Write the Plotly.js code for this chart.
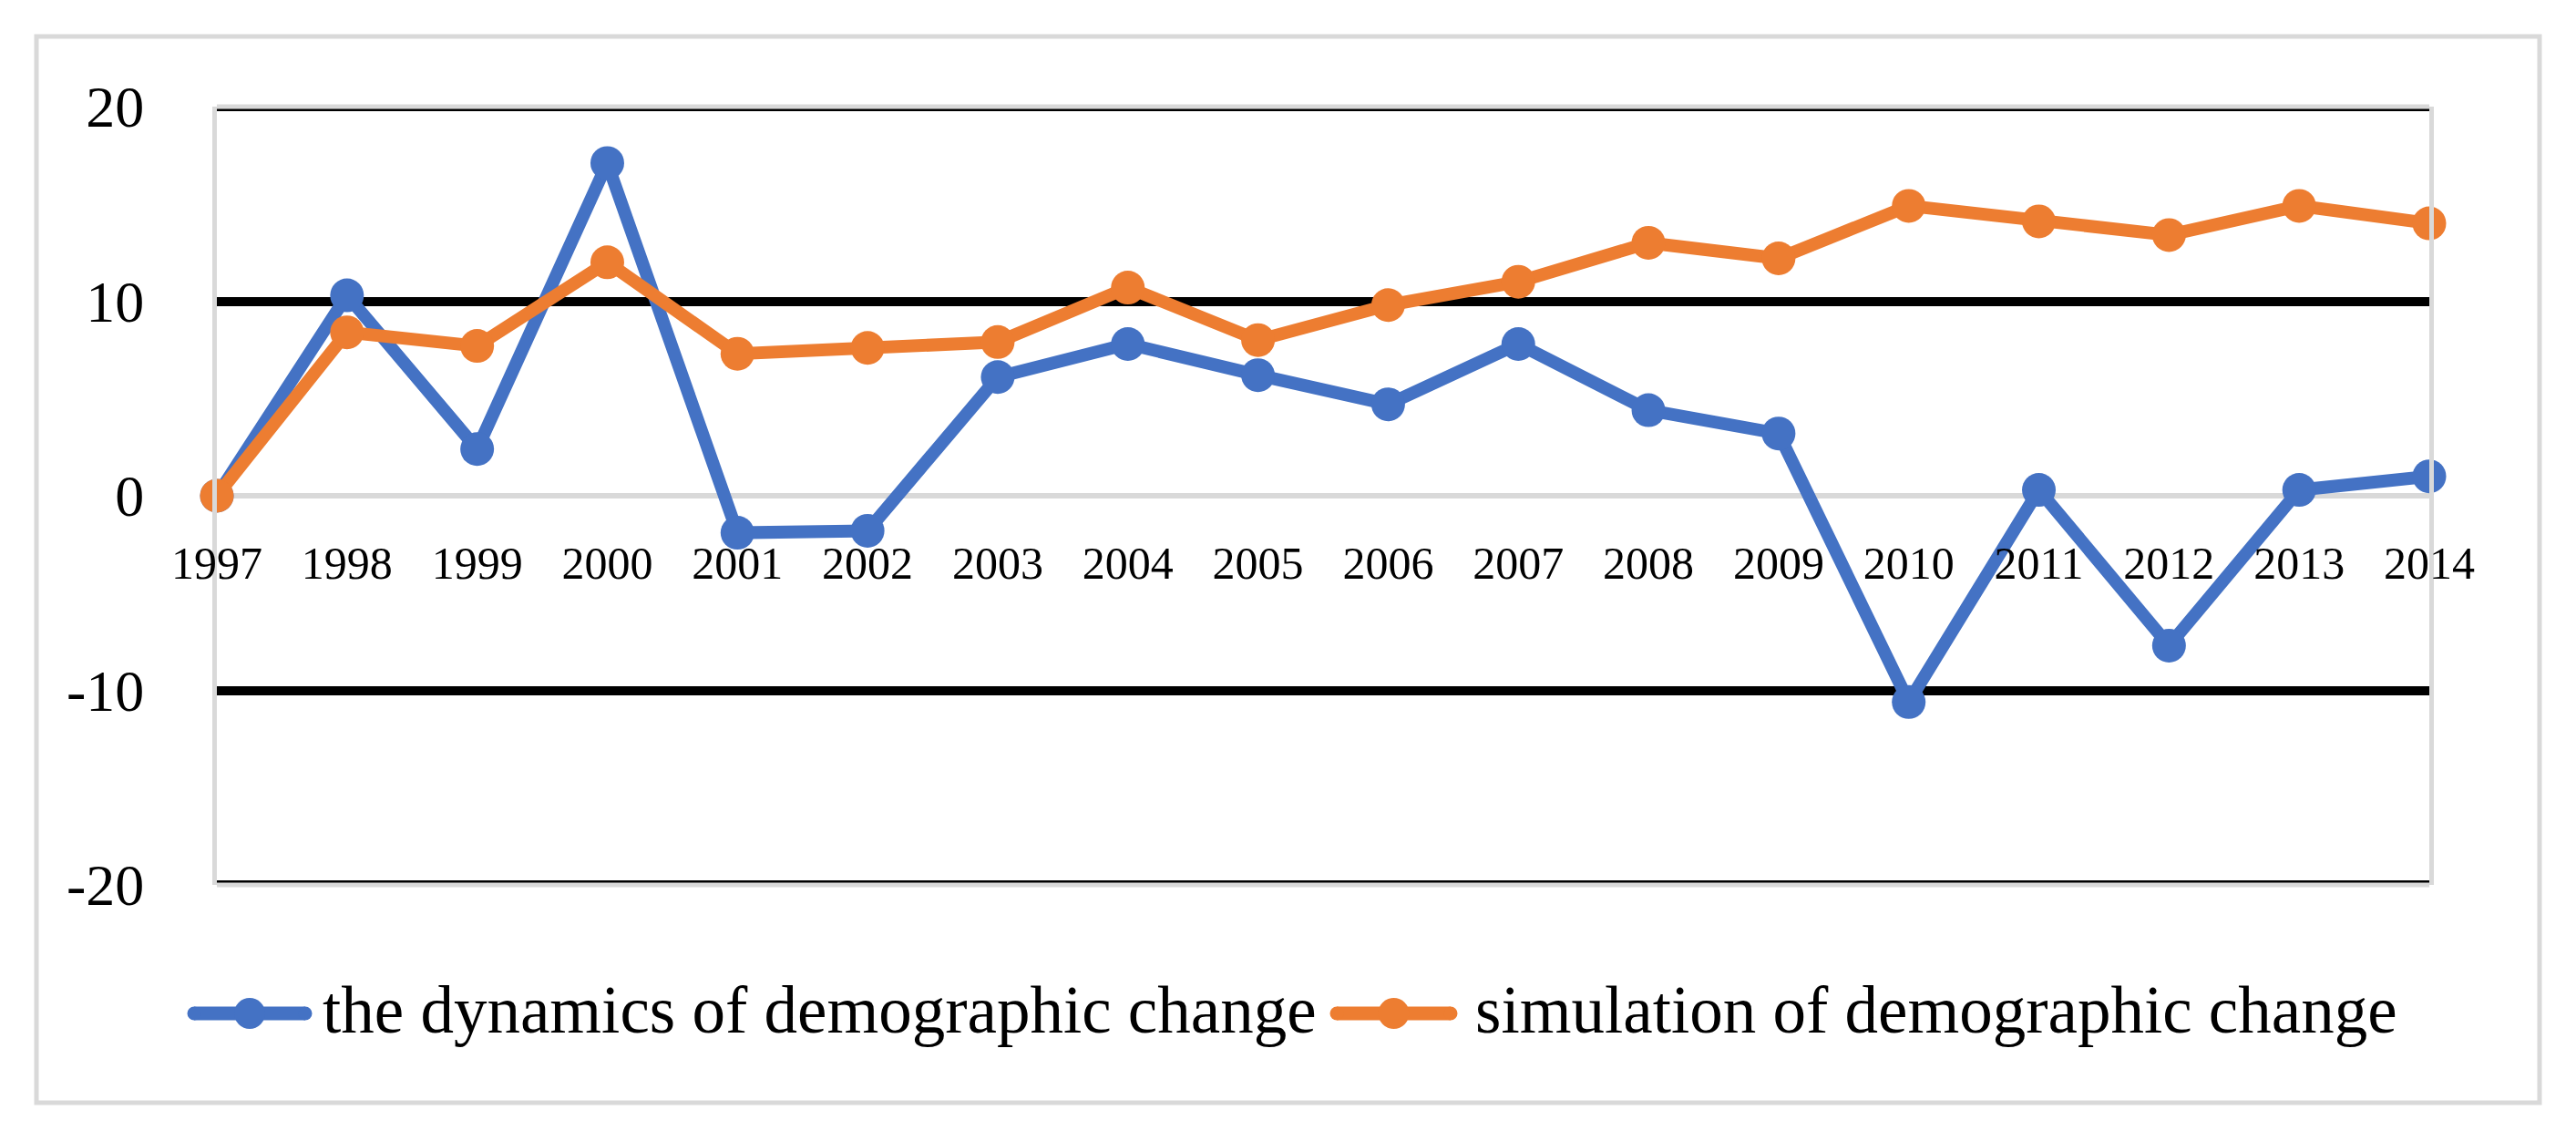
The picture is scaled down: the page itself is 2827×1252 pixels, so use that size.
<!DOCTYPE html>
<html>
<head>
<meta charset="utf-8">
<script src="https://cdn.plot.ly/plotly-3.0.1.min.js"></script>
<style>html,body{margin:0;padding:0;background:#fff;}#chart{width:2827px;height:1252px;}</style>
</head>
<body>
<div id="chart"></div>
<script>
// ---- data ----
const years = [1997,1998,1999,2000,2001,2002,2003,2004,2005,2006,2007,2008,2009,2010,2011,2012,2013,2014];
const dynamicsValues = [0,10.3,2.4,17.1,-1.9,-1.8,6.1,7.8,6.2,4.7,7.8,4.4,3.2,-10.6,0.3,-7.7,0.3,1.0];
const simulationValues = [0,8.4,7.7,12.0,7.3,7.6,7.9,10.7,8.0,9.8,11.0,13.0,12.2,14.9,14.1,13.4,14.9,14.0];
const seriesNames = ["the dynamics of demographic change","simulation of demographic change"];
const yTicks = [-20,-10,0,10,20];

// ---- layout geometry (pixels) ----
const W = 2827, H = 1252;
const L = 238, R = 2666, T = 117, B = 971;
const px = x => (x - L) / (R - L);
const py = y => (B - y) / (B - T);
const BLUE = "#4472C4", ORANGE = "#ED7D31", GRAY = "#D9D9D9";
const FONT = "Liberation Serif, Times New Roman, serif";

const traces = [
  {x: years, y: dynamicsValues, name: seriesNames[0], type: "scatter", mode: "lines+markers",
   line: {color: BLUE, width: 14}, marker: {color: BLUE, size: 37}, cliponaxis: false, showlegend: false},
  {x: years, y: simulationValues, name: seriesNames[1], type: "scatter", mode: "lines+markers",
   line: {color: ORANGE, width: 14}, marker: {color: ORANGE, size: 37}, cliponaxis: false, showlegend: false}
];

const legendY = 1112;
const legendItems = [
  {x0: 213, x1: 335, tx: 352, color: BLUE, text: seriesNames[0]},
  {x0: 1467, x1: 1592, tx: 1617, color: ORANGE, text: seriesNames[1]}
];

const shapes = [
  // outer chart border
  {type: "rect", xref: "paper", yref: "paper", x0: px(40), x1: px(2787), y0: py(1210), y1: py(40),
   line: {color: GRAY, width: 5}, layer: "below"}
];
// black gridlines at the range ends (Plotly omits grid lines on the plot edges)
[yTicks[0], yTicks[yTicks.length - 1]].forEach(v => {
  shapes.push({type: "line", xref: "paper", yref: "y", x0: 0, x1: 1, y0: v, y1: v,
    line: {color: "#000", width: 10}, layer: "above"});
});
// top & bottom plot frame drawn over them
shapes.push({type: "line", xref: "paper", yref: "paper", x0: 0, x1: 1, y0: 1, y1: 1, line: {color: GRAY, width: 5}, layer: "above"});
shapes.push({type: "line", xref: "paper", yref: "paper", x0: 0, x1: 1, y0: 0, y1: 0, line: {color: GRAY, width: 5}, layer: "above"});

const annotations = [];
const dot = (cx, r, color) => ({type: "circle", xref: "paper", yref: "paper", xsizemode: "pixel", ysizemode: "pixel",
    xanchor: px(cx), yanchor: py(legendY), x0: -r, x1: r, y0: -r, y1: r,
    fillcolor: color, line: {color: color, width: 0}, layer: "above"});
legendItems.forEach(it => {
  shapes.push({type: "line", xref: "paper", yref: "paper", x0: px(it.x0), x1: px(it.x1), y0: py(legendY), y1: py(legendY),
    line: {color: it.color, width: 15}, layer: "above"});
  shapes.push(dot(it.x0, 7.5, it.color));
  shapes.push(dot(it.x1, 7.5, it.color));
  shapes.push(dot((it.x0 + it.x1) / 2, 17, it.color));
  annotations.push({xref: "paper", yref: "paper", x: px(it.tx), y: py(legendY - 4), xanchor: "left", yanchor: "middle",
    text: it.text, showarrow: false, font: {family: FONT, size: 73, color: "#000"}});
});

const layout = {
  width: W, height: H,
  margin: {l: L, r: W - R, t: T, b: H - B, pad: 0},
  paper_bgcolor: "#fff", plot_bgcolor: "#fff",
  showlegend: false,
  xaxis: {
    range: [1997, 2014], anchor: "free", position: 0.5,
    tickmode: "array", tickvals: years, ticktext: years.map(String),
    showgrid: false, zeroline: false, showline: false, ticks: "",
    ticklabelstandoff: 40,
    tickfont: {family: FONT, size: 50, color: "#000"}
  },
  yaxis: {
    range: [-20, 20], tickmode: "array", tickvals: yTicks, ticktext: yTicks.map(String),
    showgrid: true, gridcolor: "#000", gridwidth: 10,
    zeroline: true, zerolinecolor: GRAY, zerolinewidth: 6,
    showline: true, mirror: true, linecolor: GRAY, linewidth: 5,
    ticks: "", ticklabelstandoff: 62,
    tickfont: {family: FONT, size: 64, color: "#000"}
  },
  shapes: shapes,
  annotations: annotations
};

Plotly.newPlot("chart", traces, layout, {staticPlot: true, displayModeBar: false});
</script>
</body>
</html>
